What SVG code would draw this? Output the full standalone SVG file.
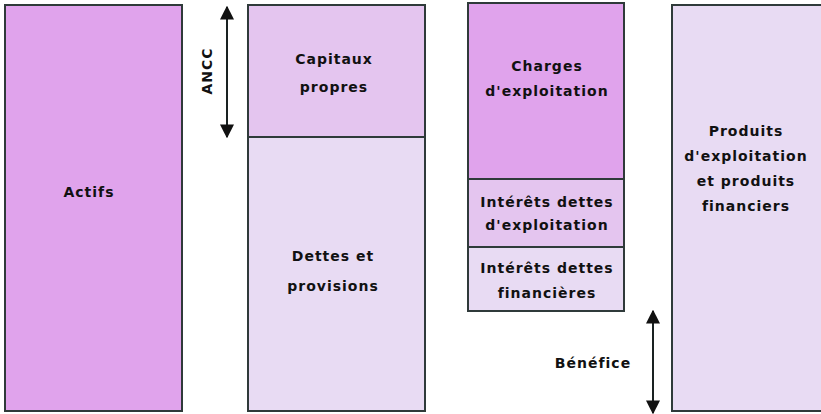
<svg xmlns="http://www.w3.org/2000/svg" width="821" height="414" viewBox="0 0 821 414">
<defs>
<style>
.b{stroke:#2f3a3a;stroke-width:2}
.c1{fill:#e0a3ec}.c2{fill:#e4c5ef}.c3{fill:#e8dbf3}
text{font-family:"DejaVu Sans","Liberation Sans",sans-serif;font-weight:bold;font-size:14px;letter-spacing:1px;fill:#111;text-anchor:middle}
.ar{stroke:#1a2222;stroke-width:2;fill:none}
</style>
<marker id="ah" viewBox="0 0 10 10" refX="9" refY="5" markerWidth="7" markerHeight="7" markerUnits="strokeWidth" orient="auto-start-reverse">
<path d="M0,0 L10,5 L0,10 z" fill="#111"/>
</marker>
</defs>
<rect width="821" height="414" fill="#fff"/>
<g id="actif">
<rect class="b c1" x="5" y="5" width="177" height="406"/>
<text x="89" y="197">Actifs</text>
</g>
<g id="capitaux">
<rect class="b c2" x="248" y="5" width="177" height="132"/>
<text x="334" y="64">Capitaux</text>
<text x="334" y="92">propres</text>
</g>
<g id="dettes">
<rect class="b c3" x="248" y="137" width="177" height="274"/>
<text x="333" y="261">Dettes et</text>
<text x="333" y="291">provisions</text>
</g>
<g id="charges">
<rect class="b c1" x="468" y="3" width="156" height="176"/>
<text x="547" y="71">Charges</text>
<text x="547" y="96">d'exploitation</text>
</g>
<g id="interets-exploitation">
<rect class="b c2" x="468" y="179" width="156" height="68"/>
<text x="547" y="207">Intérêts dettes</text>
<text x="547" y="230">d'exploitation</text>
</g>
<g id="interets-financieres">
<rect class="b c3" x="468" y="247" width="156" height="64"/>
<text x="547" y="273">Intérêts dettes</text>
<text x="547" y="298">financières</text>
</g>
<g id="produits">
<rect class="b c3" x="672" y="5" width="152" height="406"/>
<text x="746" y="136">Produits</text>
<text x="746" y="161">d'exploitation</text>
<text x="746" y="186">et produits</text>
<text x="746" y="211">financiers</text>
</g>
<g id="connectors">
<line class="ar" x1="227" y1="7" x2="227" y2="137" marker-start="url(#ah)" marker-end="url(#ah)"/>
<text transform="translate(212,71) rotate(-90)">ANCC</text>
<line class="ar" x1="653" y1="311" x2="653" y2="413" marker-start="url(#ah)" marker-end="url(#ah)"/>
<text x="593" y="368">Bénéfice</text>
</g>
</svg>
